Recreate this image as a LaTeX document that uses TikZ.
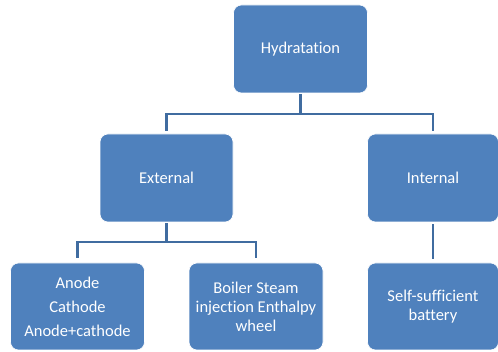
\documentclass[tikz,border=0pt]{standalone}
\usepackage{fontspec}
\setmainfont{Carlito}[Ligatures=CommonOff]
\definecolor{boxblue}{RGB}{79,129,189}
\definecolor{linkblue}{RGB}{64,108,160}

\begin{document}
\begin{tikzpicture}[
    x=1pt, y=-1pt,
    box/.style={rectangle, rounded corners=8pt, fill=boxblue, draw=white, line width=0.6pt,
        text=white, align=center, minimum width=134pt, minimum height=88pt, inner sep=2pt,
        font=\fontsize{16.5}{19}\selectfont},
    link/.style={draw=linkblue, line width=2.4pt}
]
\useasboundingbox (0,0) rectangle (498,352);

% top level
\node[box] (hyd) at (300.5,49) {Hydratation};

% second level
\node[box, minimum width=133pt] (ext) at (166.5,178) {External};
\node[box, minimum width=131pt] (int) at (433,178) {Internal};

% third level
\node[box, minimum height=87pt] (anode) at (77.5,306.5) {Anode\\[5pt]Cathode\\[5pt]Anode+cathode};
\node[box, minimum height=87pt] (boiler) at (256,306.5) {Boiler Steam\\injection Enthalpy\\wheel};
\node[box, minimum width=131pt, minimum height=87pt] (self) at (433,306.5) {Self-sufficient\\battery};

% connectors
\coordinate (hsplit) at (300.5,114);
\coordinate (esplit) at (166.5,242);
\draw[link, shorten <=1pt] (hyd.south) -- (hsplit);
\draw[link, shorten <=3pt, shorten >=3pt] (ext.north) |- (hsplit) -| (int.north);
\draw[link, shorten <=1pt] (ext.south) -- (esplit);
\draw[link, shorten <=5pt, shorten >=5pt] (anode.north) |- (esplit) -| (boiler.north);
\draw[link, shorten <=2pt, shorten >=4pt] (int.south) -- (self.north);

\end{tikzpicture}
\end{document}
